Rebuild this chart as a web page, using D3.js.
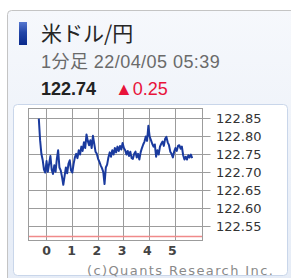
<!DOCTYPE html>
<html><head><meta charset="utf-8">
<script src="https://cdn.jsdelivr.net/npm/d3@7"></script>
<style>
html,body{margin:0;padding:0;background:#fff;}
svg{display:block;}
</style></head>
<body>
<script>
const title = "米ドル/円";
const subtitle = "1分足 22/04/05 05:39";
const lastPrice = "122.74";
const change = "▲0.25";
const credit = "(c)Quants Research Inc.";
const startMinute = -18;   // minutes from 00:00
const stepMinutes = 3;
const prices = [
 122.850,122.790,122.752,122.735,122.708,122.700,122.732,122.702,122.724,122.746,
 122.708,122.696,122.720,122.702,122.738,122.762,122.714,122.706,122.688,122.666,
 122.690,122.714,122.698,122.724,122.734,122.706,122.700,122.724,122.742,122.752,
 122.740,122.762,122.750,122.772,122.760,122.784,122.768,122.806,122.788,122.776,
 122.790,122.768,122.802,122.780,122.758,122.752,122.738,122.730,122.720,122.712,
 122.702,122.668,122.714,122.722,122.742,122.756,122.744,122.762,122.750,122.768,
 122.756,122.772,122.760,122.774,122.764,122.782,122.768,122.762,122.750,122.760,
 122.746,122.758,122.740,122.738,122.752,122.758,122.742,122.752,122.736,122.756,
 122.768,122.778,122.786,122.800,122.788,122.830,122.800,122.790,122.780,122.772,
 122.778,122.744,122.762,122.750,122.772,122.780,122.786,122.774,122.794,122.799,
 122.784,122.776,122.758,122.752,122.742,122.758,122.768,122.760,122.774,122.776,
 122.766,122.772,122.748,122.736,122.744,122.736,122.748,122.742,122.750,122.740
];
const xTicks = [0,1,2,3,4,5];
const yTicks = [122.55,122.60,122.65,122.70,122.75,122.80,122.85];
const xDomain = [-0.70, 6.05];
const yDomain = [122.511, 122.878];
const refLine = 122.522;

const W = 291, H = 278;
const svg = d3.select("body").append("svg").attr("width", W).attr("height", H);
const defs = svg.append("defs");
const cardGrad = defs.append("linearGradient").attr("id","cardG").attr("x1",0).attr("y1",0).attr("x2",0).attr("y2",1);
cardGrad.append("stop").attr("offset","0%").attr("stop-color","#f6f8fc");
cardGrad.append("stop").attr("offset","100%").attr("stop-color","#e4ebf6");
const markGrad = defs.append("linearGradient").attr("id","markG").attr("x1",0).attr("y1",0).attr("x2",0).attr("y2",1);
markGrad.append("stop").attr("offset","0%").attr("stop-color","#5677cf");
markGrad.append("stop").attr("offset","45%").attr("stop-color","#2346a8");
markGrad.append("stop").attr("offset","100%").attr("stop-color","#0a2a8c");

// card
svg.append("rect").attr("x",7.5).attr("y",10.5).attr("width",300).attr("height",300).attr("rx",4)
  .attr("fill","url(#cardG)").attr("stroke","#c4c4c4");
// marker
svg.append("rect").attr("x",19).attr("y",22).attr("width",8).attr("height",23).attr("fill","url(#markG)");
svg.append("text").attr("x",41).attr("y",41).text(title)
  .attr("font-family","'Noto Sans CJK JP', sans-serif").attr("font-size",21).attr("fill","#262626");
svg.append("text").attr("x",41).attr("y",67.5).text(subtitle)
  .attr("font-family","'Liberation Sans','Noto Sans CJK JP', sans-serif").attr("font-size",18)
  .attr("letter-spacing","0.45px").attr("fill","#6a6a6a");
svg.append("text").attr("x",41).attr("y",95).text(lastPrice)
  .attr("font-family","'Liberation Sans', sans-serif").attr("font-weight","bold").attr("font-size",18).attr("fill","#222");
svg.append("text").attr("x",115).attr("y",95).text(change)
  .attr("font-family","'Liberation Sans','DejaVu Sans', sans-serif").attr("font-size",18).attr("fill","#e8133a");

// inner panel
svg.append("rect").attr("x",13.5).attr("y",104.5).attr("width",274).attr("height",171).attr("rx",4)
  .attr("fill","#fff").attr("stroke","#c9d6ea");

const x = d3.scaleLinear().domain(xDomain).range([28.5, 202.5]);
const y = d3.scaleLinear().domain(yDomain).range([240.5, 108.5]);
const px = v => Math.round(v - 0.5) + 0.5;

const g = svg.append("g");
const gridColor = "#9c9c9c";
g.selectAll("line.h").data(yTicks).join("line")
  .attr("x1", x(xDomain[0])).attr("x2", x(xDomain[1]) + 8)
  .attr("y1", d => px(y(d))).attr("y2", d => px(y(d)))
  .attr("stroke", gridColor).attr("stroke-width",1);
g.selectAll("line.v").data(xTicks).join("line")
  .attr("x1", d => px(x(d))).attr("x2", d => px(x(d)))
  .attr("y1", y(yDomain[1])).attr("y2", y(yDomain[0]))
  .attr("stroke", gridColor).attr("stroke-width",1);
g.append("rect").attr("x", x(xDomain[0])).attr("y", y(yDomain[1]))
  .attr("width", x(xDomain[1]) - x(xDomain[0])).attr("height", y(yDomain[0]) - y(yDomain[1]))
  .attr("fill","none").attr("stroke", gridColor);
g.append("line").attr("x1", x(xDomain[0]) + 0.5).attr("x2", x(xDomain[1]) - 0.5)
  .attr("y1", y(refLine)).attr("y2", y(refLine))
  .attr("stroke","#f08a8a").attr("stroke-width",1.6);

const pts = prices.map((v,i) => [(startMinute + i*stepMinutes)/60, v]);
g.append("path").datum(pts)
  .attr("d", d3.line().x(d => x(d[0])).y(d => y(d[1])))
  .attr("fill","none").attr("stroke","#1a3a9e").attr("stroke-width",2).attr("stroke-linejoin","round");

g.selectAll("text.yl").data(yTicks).join("text")
  .attr("x", 216).attr("y", d => y(d)).attr("dy","0.36em")
  .text(d => d.toFixed(2))
  .attr("font-family","'DejaVu Sans', sans-serif").attr("font-size",13).attr("fill","#333");
g.selectAll("text.xl").data(xTicks).join("text")
  .attr("x", d => x(d) - 0.6*d).attr("y", 255).attr("text-anchor","middle")
  .text(d => d)
  .attr("font-family","'DejaVu Sans', sans-serif").attr("font-size",12.5).attr("font-weight","bold").attr("fill","#444");
svg.append("text").attr("x",87).attr("y",275).text(credit)
  .attr("font-family","'DejaVu Sans', sans-serif").attr("font-size",13).attr("letter-spacing","1.4px").attr("fill","#8a8a8a");
</script>
</body></html>
